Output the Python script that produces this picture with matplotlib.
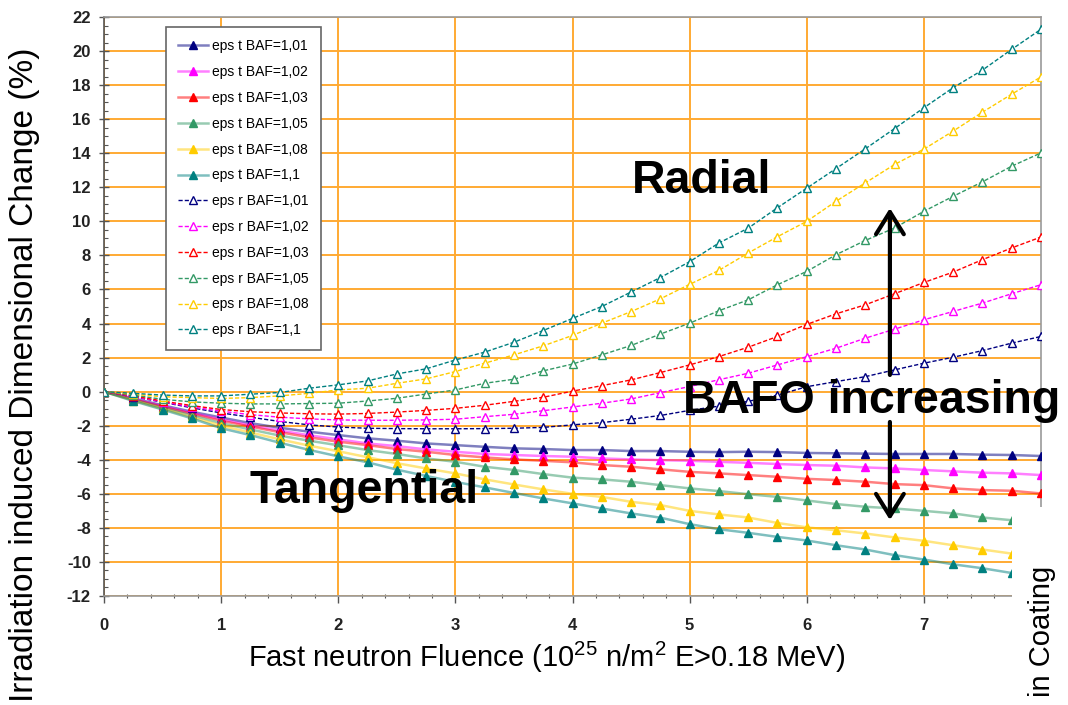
import matplotlib
matplotlib.use("Agg")
import numpy as np
import matplotlib.pyplot as plt
from matplotlib import font_manager
from matplotlib.colors import to_rgba
from matplotlib.patches import Rectangle

# fluence (10^25 n/m2), one point every 0.25
fluence = [0, 0.25, 0.5, 0.75, 1, 1.25, 1.5, 1.75, 2, 2.25, 2.5, 2.75, 3, 3.25, 3.5, 3.75,
           4, 4.25, 4.5, 4.75, 5, 5.25, 5.5, 5.75, 6, 6.25, 6.5, 6.75, 7, 7.25, 7.5, 7.75, 8]

baf = ["1,01", "1,02", "1,03", "1,05", "1,08", "1,1"]
colors = ["#000080", "#FF00FF", "#FF0000", "#339966", "#FFCC00", "#008080"]

# tangential
eps_t_101 = [0, -0.4, -0.8, -1.18, -1.52, -1.85, -2.12, -2.35, -2.55, -2.74, -2.88, -3.04, -3.14, -3.24, -3.33, -3.37,
             -3.43, -3.43, -3.49, -3.49, -3.53, -3.55, -3.53, -3.55, -3.6, -3.62, -3.64, -3.66, -3.66, -3.66, -3.7, -3.72, -3.78]
eps_t_102 = [0, -0.42, -0.85, -1.25, -1.62, -1.98, -2.28, -2.56, -2.8, -3.04, -3.2, -3.39, -3.53, -3.66, -3.72, -3.78,
             -3.82, -3.92, -3.98, -4.02, -4.06, -4.12, -4.18, -4.25, -4.31, -4.35, -4.45, -4.51, -4.6, -4.68, -4.76, -4.8, -4.9]
eps_t_103 = [0, -0.45, -0.9, -1.3, -1.7, -2.05, -2.38, -2.68, -2.94, -3.14, -3.37, -3.53, -3.72, -3.86, -3.98, -4.06,
             -4.15, -4.31, -4.41, -4.56, -4.71, -4.8, -4.9, -5.0, -5.12, -5.19, -5.29, -5.43, -5.49, -5.68, -5.78, -5.82, -5.98]
eps_t_105 = [0, -0.48, -0.95, -1.4, -1.85, -2.22, -2.58, -2.88, -3.15, -3.43, -3.66, -3.92, -4.12, -4.41, -4.6, -4.84,
             -5.05, -5.15, -5.29, -5.49, -5.68, -5.84, -6.02, -6.18, -6.39, -6.6, -6.76, -6.86, -7.0, -7.15, -7.39, -7.55, -7.7]
eps_t_108 = [0, -0.52, -1.0, -1.5, -2.0, -2.4, -2.8, -3.17, -3.5, -3.85, -4.2, -4.51, -4.8, -5.15, -5.45, -5.74,
             -6.0, -6.18, -6.47, -6.66, -7.0, -7.21, -7.39, -7.71, -7.97, -8.14, -8.33, -8.56, -8.76, -9.02, -9.27, -9.51, -9.75]
eps_t_110 = [0, -0.55, -1.05, -1.57, -2.15, -2.55, -3.0, -3.42, -3.8, -4.15, -4.58, -4.95, -5.3, -5.62, -5.95, -6.27,
             -6.56, -6.86, -7.15, -7.4, -7.78, -8.08, -8.29, -8.53, -8.74, -9.02, -9.27, -9.6, -9.86, -10.14, -10.37, -10.65, -10.9]

# radial
eps_r_101 = [0, -0.3, -0.62, -0.95, -1.25, -1.5, -1.75, -1.95, -2.08, -2.15, -2.17, -2.18, -2.18, -2.17, -2.15, -2.1,
             -1.95, -1.82, -1.62, -1.4, -1.1, -0.85, -0.57, -0.2, 0.29, 0.59, 0.88, 1.28, 1.67, 2.02, 2.41, 2.85, 3.24]
eps_r_102 = [0, -0.28, -0.6, -0.9, -1.15, -1.35, -1.5, -1.6, -1.66, -1.68, -1.68, -1.66, -1.62, -1.47, -1.33, -1.12,
             -0.9, -0.68, -0.43, -0.06, 0.3, 0.7, 1.08, 1.57, 2.05, 2.55, 3.14, 3.67, 4.22, 4.71, 5.2, 5.75, 6.28]
eps_r_103 = [0, -0.25, -0.55, -0.82, -1.05, -1.18, -1.25, -1.3, -1.32, -1.28, -1.2, -1.1, -0.98, -0.8, -0.57, -0.33,
             0.03, 0.35, 0.69, 1.12, 1.57, 2.06, 2.61, 3.24, 3.95, 4.57, 5.1, 5.75, 6.41, 7.02, 7.75, 8.44, 9.08]
eps_r_105 = [0, -0.2, -0.45, -0.6, -0.68, -0.72, -0.72, -0.7, -0.68, -0.55, -0.39, -0.14, 0.1, 0.49, 0.73, 1.22,
             1.62, 2.16, 2.71, 3.38, 4.02, 4.75, 5.39, 6.28, 7.06, 8.04, 8.88, 9.61, 10.59, 11.47, 12.32, 13.24, 14.02]
eps_r_108 = [0, -0.15, -0.3, -0.35, -0.4, -0.35, -0.25, -0.1, 0.1, 0.2, 0.49, 0.75, 1.18, 1.67, 2.16, 2.69,
             3.3, 4.02, 4.7, 5.45, 6.3, 7.12, 8.14, 9.1, 10.0, 11.18, 12.26, 13.34, 14.24, 15.3, 16.41, 17.47, 18.48]
eps_r_110 = [0, -0.1, -0.2, -0.25, -0.25, -0.15, -0.05, 0.2, 0.4, 0.63, 1.04, 1.34, 1.86, 2.32, 2.9, 3.59,
             4.3, 5.0, 5.85, 6.7, 7.63, 8.73, 9.6, 10.8, 11.95, 13.1, 14.26, 15.45, 16.67, 17.85, 18.88, 20.1, 21.28]

eps_t = [eps_t_101, eps_t_102, eps_t_103, eps_t_105, eps_t_108, eps_t_110]
eps_r = [eps_r_101, eps_r_102, eps_r_103, eps_r_105, eps_r_108, eps_r_110]

names = {f.name for f in font_manager.fontManager.ttflist}
base = "Liberation Sans" if "Liberation Sans" in names else "DejaVu Sans"
plt.rcParams["font.family"] = [base, "DejaVu Sans"]
plt.rcParams["mathtext.default"] = "regular"
plt.rcParams["axes.unicode_minus"] = False

W, H = 1068, 705
fig = plt.figure(figsize=(W / 100, H / 100), dpi=100)
ax = fig.add_axes([104 / W, 1 - 596 / H, 937 / W, 579 / H])

for vals, c, b in zip(eps_t, colors, baf):
    ax.plot(fluence, vals, color=to_rgba(c, 0.5), lw=1.8, marker="^", ms=5.5,
            mfc=c, mec=c, label="eps t BAF=" + b, zorder=3)
for vals, c, b in zip(eps_r, colors, baf):
    ax.plot(fluence, vals, color=c, lw=1.0, ls=(0, (3, 1.5)), marker="^", ms=6,
            mfc="white", mec=c, mew=1.0, label="eps r BAF=" + b, zorder=3)

ax.set_xlim(0, 8)
ax.set_ylim(-12, 22)
ax.set_xticks(range(0, 8))
ax.set_xticks(np.arange(0, 8.01, 0.2), minor=True)
ax.set_yticks(range(-12, 23, 2))
ax.set_yticks(np.arange(-12, 22.01, 0.5), minor=True)
ax.grid(True, which="major", color="#FFAA33", lw=1.4)
ax.set_axisbelow(True)

for s in ax.spines.values():
    s.set_color("#999999")
    s.set_linewidth(1.2)
ax.spines["left"].set_color("#555555")

ax.tick_params(axis="x", which="major", direction="out", length=5, width=1, color="#555555",
               pad=11, labelsize=12, labelcolor="#222222")
ax.tick_params(axis="x", which="minor", direction="inout", length=3, width=0.8, color="#555555")
ax.tick_params(axis="y", which="major", direction="inout", length=7, width=1, color="#555555",
               pad=6, labelsize=12, labelcolor="#222222")
ax.tick_params(axis="y", which="minor", direction="in", length=3, width=0.8, color="#555555")
for lab in ax.get_xticklabels() + ax.get_yticklabels():
    lab.set_fontweight("bold")

leg = ax.legend(loc="upper left", bbox_to_anchor=(0.066, 0.983), fontsize=10, frameon=True,
                fancybox=False, edgecolor="#666666", framealpha=1, labelspacing=0.85,
                handlelength=2.1, handletextpad=0.3, borderpad=0.9, borderaxespad=0)
leg.get_frame().set_linewidth(1.2)
leg.set_zorder(4)

big = dict(fontsize=33.5, fontweight="bold", color="black", ha="left", va="baseline", zorder=6)
ax.text(4.51, 11.69, "Radial", **big)
ax.text(1.242, -6.56, "Tangential", **big)
ax.text(4.94, -1.25, "BAFO increasing", **big)

arrow = dict(arrowstyle="->,head_length=0.8,head_width=0.5", lw=3, color="black",
             shrinkA=0, shrinkB=0, mutation_scale=20)
ax.annotate("", xy=(6.71, 10.78), xytext=(6.71, 0.98), arrowprops=arrow, zorder=6)
ax.annotate("", xy=(6.71, -7.54), xytext=(6.71, -1.78), arrowprops=arrow, zorder=6)

fig.text(25 / W, 1 - 375 / H, "Irradiation induced Dimensional Change (%)", rotation=90,
         ha="center", va="center", fontsize=24)
fig.text(547 / W, 1 - 657 / H, "Fast neutron Fluence (10$^{25}$ n/m$^{2}$ E>0.18 MeV)",
         ha="center", va="center", fontsize=21)

fig.add_artist(Rectangle((1012 / W, 0), 56 / W, (H - 507) / H, transform=fig.transFigure,
                         facecolor="white", edgecolor="none", zorder=5))
fig.text(1042 / W, 1 - 631 / H, "in Coating", rotation=90, ha="center", va="center",
         fontsize=21, zorder=6)

fig.savefig("out.png", dpi=100)
